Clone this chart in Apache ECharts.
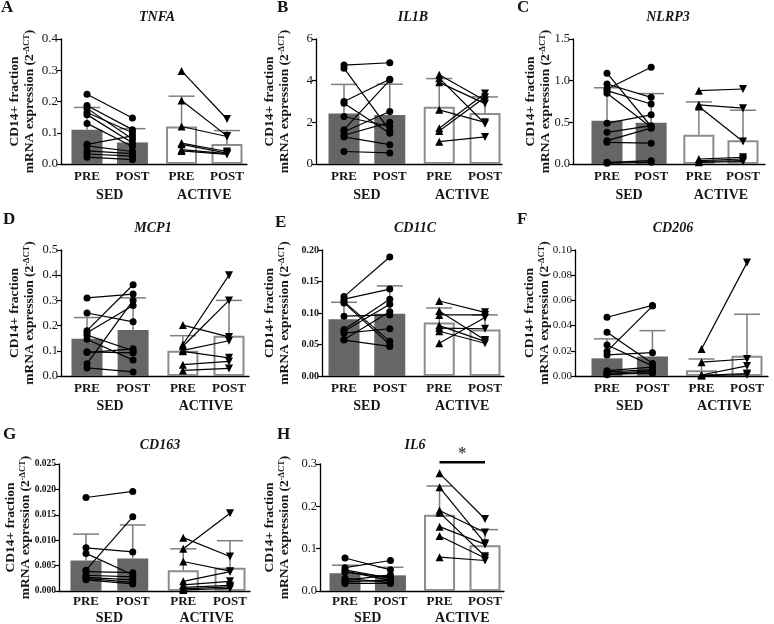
<!DOCTYPE html>
<html>
<head>
<meta charset="utf-8">
<script src="https://cdn.jsdelivr.net/npm/echarts@6/dist/echarts.min.js"></script>
<style>html,body{margin:0;padding:0;background:#fff}#c{width:774px;height:624px}</style>
</head>
<body>
<div id="c"></div>
<script>
// ---------------- DATA ----------------
const phaseLabels = ['PRE', 'POST', 'PRE', 'POST'];
const groupLabels = ['SED', 'ACTIVE'];
const geneNames = ['TNFA', 'IL1B', 'NLRP3', 'MCP1', 'CD11C', 'CD206', 'CD163', 'IL6'];
const panelLetters = ['A', 'B', 'C', 'D', 'E', 'F', 'G', 'H'];
const yAxisMax = [0.4, 6, 1.5, 0.5, 0.2, 0.1, 0.025, 0.3];
const yAxisStep = [0.1, 2, 0.5, 0.1, 0.05, 0.02, 0.005, 0.1];
const yTickDecimals = [1, 0, 1, 1, 2, 2, 3, 1];

// TNFA
const tnfaSedPre  = [0.223, 0.187, 0.178, 0.165, 0.158, 0.130, 0.063, 0.058, 0.042, 0.032, 0.022];
const tnfaSedPost = [0.147, 0.110, 0.080, 0.100, 0.067, 0.056, 0.090, 0.040, 0.033, 0.025, 0.014];
const tnfaActPre  = [0.298, 0.203, 0.120, 0.067, 0.063, 0.046, 0.042];
const tnfaActPost = [0.144, 0.090, 0.088, 0.040, 0.035, 0.033, 0.031];
const tnfaMean = [0.110, 0.069, 0.120, 0.064];
const tnfaSdTop = [0.181, 0.113, 0.217, 0.107];
// IL1B
const il1bSedPre  = [4.75, 4.60, 3.00, 2.92, 2.28, 1.65, 1.55, 1.38, 1.30, 0.60];
const il1bSedPost = [4.86, 1.60, 4.07, 1.48, 1.80, 4.03, 2.52, 2.00, 0.93, 0.53];
const il1bActPre  = [4.28, 4.12, 3.92, 2.60, 1.72, 1.58, 1.07];
const il1bActPost = [3.05, 1.93, 2.90, 2.00, 3.38, 3.20, 1.30];
const il1bMean = [2.42, 2.35, 2.75, 2.45];
const il1bSdTop = [3.82, 3.83, 4.10, 3.22];
// NLRP3
const nlrp3SedPre  = [1.09, 0.96, 0.90, 0.88, 0.85, 0.49, 0.38, 0.28, 0.26, 0.02, 0.01];
const nlrp3SedPost = [0.45, 0.80, 1.16, 0.72, 0.44, 0.59, 0.46, 0.43, 0.25, 0.04, 0.02];
const nlrp3ActPre  = [0.88, 0.71, 0.69, 0.06, 0.04, 0.03, 0.02];
const nlrp3ActPost = [0.90, 0.67, 0.27, 0.08, 0.06, 0.04, 0.03];
const nlrp3Mean = [0.52, 0.495, 0.35, 0.285];
const nlrp3SdTop = [0.915, 0.845, 0.745, 0.645];
// MCP1
const mcp1SedPre  = [0.310, 0.250, 0.180, 0.172, 0.162, 0.146, 0.096, 0.093, 0.049, 0.032];
const mcp1SedPost = [0.325, 0.215, 0.362, 0.280, 0.100, 0.063, 0.092, 0.108, 0.300, 0.016];
const mcp1ActPre  = [0.202, 0.125, 0.118, 0.102, 0.098, 0.045, 0.022];
const mcp1ActPost = [0.155, 0.400, 0.300, 0.140, 0.072, 0.058, 0.030];
const mcp1Mean = [0.148, 0.183, 0.100, 0.160];
const mcp1SdTop = [0.232, 0.310, 0.160, 0.300];
// CD11C
const cd11cSedPre  = [0.126, 0.122, 0.118, 0.116, 0.095, 0.074, 0.071, 0.068, 0.058, 0.057];
const cd11cSedPost = [0.189, 0.138, 0.055, 0.050, 0.097, 0.122, 0.114, 0.075, 0.102, 0.047];
const cd11cActPre  = [0.119, 0.103, 0.097, 0.080, 0.076, 0.071, 0.052];
const cd11cActPost = [0.101, 0.057, 0.097, 0.055, 0.075, 0.052, 0.093];
const cd11cMean = [0.090, 0.099, 0.085, 0.074];
const cd11cSdTop = [0.117, 0.143, 0.108, 0.097];
// CD206
const cd206SedPre  = [0.0466, 0.0347, 0.0246, 0.0195, 0.0167, 0.0042, 0.0032, 0.0020, 0.0015, 0.0010];
const cd206SedPost = [0.0560, 0.0100, 0.0080, 0.0555, 0.0185, 0.0070, 0.0050, 0.0040, 0.0020, 0.0035];
const cd206ActPre  = [0.0215, 0.0110, 0.0008, 0.0005, 0.0003];
const cd206ActPost = [0.0900, 0.0135, 0.0080, 0.0020, 0.0010];
const cd206Mean = [0.0140, 0.0155, 0.0045, 0.0160];
const cd206SdTop = [0.0295, 0.0360, 0.0135, 0.0490];
// CD163
const cd163SedPre  = [0.0184, 0.0085, 0.0074, 0.0041, 0.0038, 0.0031, 0.0027, 0.0025, 0.0022];
const cd163SedPost = [0.0196, 0.0077, 0.0032, 0.0146, 0.0036, 0.0028, 0.0022, 0.0017, 0.0014];
const cd163ActPre  = [0.0105, 0.0083, 0.0058, 0.0019, 0.0012, 0.0007, 0.0004, 0.0002];
const cd163ActPost = [0.0068, 0.0153, 0.0039, 0.0038, 0.0019, 0.0011, 0.0008, 0.0005];
const cd163Mean = [0.0060, 0.0064, 0.0041, 0.0046];
const cd163SdTop = [0.0112, 0.0130, 0.0083, 0.0099];
// IL6
const il6SedPre  = [0.078, 0.055, 0.050, 0.047, 0.044, 0.030, 0.025, 0.022, 0.018];
const il6SedPost = [0.050, 0.072, 0.030, 0.025, 0.033, 0.020, 0.038, 0.025, 0.018];
const il6ActPre  = [0.278, 0.245, 0.190, 0.185, 0.152, 0.130, 0.080];
const il6ActPost = [0.170, 0.113, 0.138, 0.082, 0.110, 0.078, 0.072];
const il6Mean = [0.042, 0.037, 0.180, 0.108];
const il6SdTop = [0.061, 0.056, 0.248, 0.145];
const il6Significance = { level: 0.304, label: '*' };

const panels = [
  [tnfaSedPre, tnfaSedPost, tnfaActPre, tnfaActPost, tnfaMean, tnfaSdTop],
  [il1bSedPre, il1bSedPost, il1bActPre, il1bActPost, il1bMean, il1bSdTop],
  [nlrp3SedPre, nlrp3SedPost, nlrp3ActPre, nlrp3ActPost, nlrp3Mean, nlrp3SdTop],
  [mcp1SedPre, mcp1SedPost, mcp1ActPre, mcp1ActPost, mcp1Mean, mcp1SdTop],
  [cd11cSedPre, cd11cSedPost, cd11cActPre, cd11cActPost, cd11cMean, cd11cSdTop],
  [cd206SedPre, cd206SedPost, cd206ActPre, cd206ActPost, cd206Mean, cd206SdTop],
  [cd163SedPre, cd163SedPost, cd163ActPre, cd163ActPost, cd163Mean, cd163SdTop],
  [il6SedPre, il6SedPost, il6ActPre, il6ActPost, il6Mean, il6SdTop]
];

// ---------------- LAYOUT ----------------
const X = [1, 2, 3.08, 4.08];             // column positions on the x scale
const rows = [
  { top: 39, bottom: 164, phaseMargin: 6, groupOffset: 21 },
  { top: 250, bottom: 376, phaseMargin: 6, groupOffset: 20 },
  { top: 464, bottom: 591, phaseMargin: 4.5, groupOffset: 17 }
];
const layout = [
  { ax: 61,  p1: 87,  p4: 227, end: 247, row: 0, nameRight: 37 },
  { ax: 316, p1: 344, p4: 485, end: 502, row: 0, nameRight: 292 },
  { ax: 573, p1: 607, p4: 743, end: 765, row: 0, nameRight: 553 },
  { ax: 61,  p1: 87,  p4: 229, end: 249, row: 1, nameRight: 37 },
  { ax: 322, p1: 344, p4: 485, end: 504, row: 1, nameRight: 292 },
  { ax: 575, p1: 607, p4: 747, end: 768, row: 1, nameRight: 552 },
  { ax: 59,  p1: 86,  p4: 230, end: 250, row: 2, nameRight: 33 },
  { ax: 320, p1: 345, p4: 485, end: 504, row: 2, nameRight: 292 }
];
const titlePos = [[157, 17], [413, 17], [668, 17], [153, 228], [415, 228], [673, 228], [160, 445], [415, 445]];
const letterPos = [[1, 8], [277, 8], [517, 8], [3, 220], [275, 223], [517, 220], [3, 435], [277, 435]];
const boldTicks = [false, false, false, false, true, false, true, false];
const tickFontSize = [13, 13, 12.5, 12.5, 10, 11, 9.5, 12.5];

const FONT = '"Liberation Serif", "Times New Roman", serif';
const INK = '#151515';
const ERR = '#7d7d7d';

function nearest(v) {
  let b = 0;
  X.forEach((x, k) => { if (Math.abs(x - v) < Math.abs(X[b] - v)) b = k; });
  return b;
}

const grids = [], xAxes = [], yAxes = [], series = [], graphics = [];
const groupCenters = [(X[0] + X[1]) / 2, (X[2] + X[3]) / 2];

panels.forEach((P, i) => {
  const L = layout[i], R = rows[L.row];
  const u = (L.p4 - L.p1) / (X[3] - X[0]);
  const xmin = X[0] - (L.p1 - L.ax) / u;
  const xmax = X[3] + (L.end - L.p4) / u;
  grids.push({ left: L.ax, top: R.top, width: L.end - L.ax, height: R.bottom - R.top, outerBoundsMode: 'none', containLabel: false });
  xAxes.push({
    type: 'value', gridIndex: i, min: xmin, max: xmax, position: 'bottom',
    axisLine: { show: true, onZero: false, lineStyle: { color: '#000', width: 1.3 } },
    axisTick: { show: false }, splitLine: { show: false },
    axisLabel: { customValues: X, formatter: v => phaseLabels[nearest(v)], margin: R.phaseMargin,
      fontFamily: FONT, fontWeight: 'bold', fontSize: 13, color: INK }
  });
  xAxes.push({
    type: 'value', gridIndex: i, min: xmin, max: xmax, position: 'bottom', offset: R.groupOffset,
    axisLine: { show: false }, axisTick: { show: false }, splitLine: { show: false },
    axisLabel: { customValues: groupCenters, formatter: v => groupLabels[v < 2.5 ? 0 : 1], margin: 3,
      fontFamily: FONT, fontWeight: 'bold', fontSize: 14, color: INK }
  });
  const dec = yTickDecimals[i];
  yAxes.push({
    type: 'value', gridIndex: i, min: 0, max: yAxisMax[i], interval: yAxisStep[i],
    axisLine: { show: true, onZero: false, lineStyle: { color: '#000', width: 1.3 } },
    axisTick: { show: true, inside: false, length: 4, lineStyle: { color: '#000', width: 1.2 } },
    splitLine: { show: false },
    axisLabel: { formatter: v => v.toFixed(dec), margin: 3, fontFamily: FONT,
      fontSize: tickFontSize[i],
      fontWeight: boldTicks[i] ? 'bold' : 'normal', color: INK },
    name: 'CD14+ fraction\nmRNA expression (2{sup|-ΔCT})',
    nameLocation: 'middle', nameGap: L.ax - L.nameRight, nameMoveOverlap: false,
    nameTextStyle: { fontFamily: FONT, fontWeight: 'bold', fontSize: 13.5, lineHeight: 15, color: INK,
      rich: { sup: { fontFamily: FONT, fontWeight: 'bold', fontSize: 8.5, verticalAlign: 'top', color: INK } } }
  });

  const xi = 2 * i;
  // bars
  series.push({
    type: 'bar', xAxisIndex: xi, yAxisIndex: i, barWidth: 31, z: 2, silent: true,
    data: X.map((x, k) => ({
      value: [x, P[4][k]],
      itemStyle: k < 2 ? { color: '#666666', borderColor: '#666666', borderWidth: 0 }
                       : { color: '#ffffff', borderColor: '#8c8c8c', borderWidth: 2 }
    }))
  });
  // error bars (upper SD)
  series.push({
    type: 'custom', xAxisIndex: xi, yAxisIndex: i, z: 3, silent: true,
    encode: { x: 0, y: [1, 2] },
    data: X.map((x, k) => [x, P[4][k], P[5][k]]),
    renderItem: (params, api) => {
      const x = api.value(0), m = api.value(1), t = api.value(2);
      const a = api.coord([x, m]), b = api.coord([x, t]);
      const hw = 13;
      return { type: 'group', children: [
        { type: 'line', shape: { x1: a[0], y1: a[1], x2: b[0], y2: b[1] }, style: { stroke: ERR, lineWidth: 1.5 } },
        { type: 'line', shape: { x1: b[0] - hw, y1: b[1], x2: b[0] + hw, y2: b[1] }, style: { stroke: ERR, lineWidth: 1.5 } }
      ] };
    }
  });
  // paired lines
  P[0].forEach((pre, k) => {
    series.push({
      type: 'line', xAxisIndex: xi, yAxisIndex: i, z: 5, silent: true,
      symbol: 'circle', symbolSize: 7,
      itemStyle: { color: '#000' }, lineStyle: { color: '#000', width: 1.2 },
      data: [[X[0], pre], [X[1], P[1][k]]]
    });
  });
  P[2].forEach((pre, k) => {
    series.push({
      type: 'line', xAxisIndex: xi, yAxisIndex: i, z: 5, silent: true,
      symbolSize: 8,
      itemStyle: { color: '#000' }, lineStyle: { color: '#000', width: 1.2 },
      data: [{ value: [X[2], pre], symbol: 'triangle' },
             { value: [X[3], P[3][k]], symbol: 'triangle', symbolRotate: 180 }]
    });
  });

  graphics.push({ type: 'text', x: titlePos[i][0], y: titlePos[i][1],
    style: { text: geneNames[i], fill: INK, font: 'italic bold 14px ' + FONT, textAlign: 'center', textVerticalAlign: 'middle' } });
  graphics.push({ type: 'text', x: letterPos[i][0], y: letterPos[i][1],
    style: { text: panelLetters[i], fill: INK, font: 'bold 17px ' + FONT, textAlign: 'left', textVerticalAlign: 'middle' } });
});

// significance marker for IL6 (panel H)
series.push({
  type: 'line', xAxisIndex: 14, yAxisIndex: 7, z: 6, silent: true, clip: false, symbol: 'none',
  lineStyle: { color: '#000', width: 2.5 },
  data: [[X[2], il6Significance.level], [X[3], il6Significance.level]]
});
series.push({
  type: 'scatter', xAxisIndex: 14, yAxisIndex: 7, z: 6, silent: true, clip: false, symbolSize: 1,
  itemStyle: { color: 'rgba(0,0,0,0)' },
  label: { show: true, position: 'top', distance: 0, formatter: il6Significance.label,
    fontFamily: FONT, fontWeight: 'bold', fontSize: 16, color: INK },
  data: [[(X[2] + X[3]) / 2, il6Significance.level]]
});

const chart = echarts.init(document.getElementById('c'), null, { renderer: 'canvas' });
chart.setOption({
  animation: false,
  backgroundColor: '#fff',
  grid: grids, xAxis: xAxes, yAxis: yAxes, series: series,
  graphic: graphics
});
</script>
</body>
</html>
